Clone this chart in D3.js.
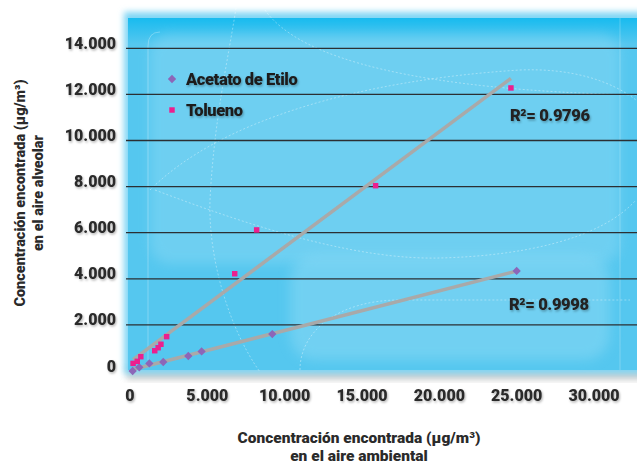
<!DOCTYPE html>
<html>
<head>
<meta charset="utf-8">
<script src="https://cdn.jsdelivr.net/npm/d3@7"></script>
<style>
  html, body { margin: 0; padding: 0; background: #fff; }
  svg { display: block; font-family: Roboto, "DejaVu Sans", sans-serif; }
</style>
</head>
<body>
<svg id="chart"></svg>
<script>
// values (µg/m3)
const seriesNames = ["Acetato de Etilo", "Tolueno"];
const seriesColors = ["#8c66b8", "#ec1f8e"];
const acetatoX = [170, 600, 1250, 2150, 3770, 4630, 9200, 25000];
const acetatoY = [0, 160, 330, 390, 650, 850, 1600, 4340];
const toluenoX = [200, 470, 700, 1600, 1820, 2000, 2370, 6770, 8190, 15880, 24630];
const toluenoY = [330, 420, 620, 880, 1010, 1160, 1490, 4220, 6120, 8040, 12280];
const r2Labels = ["R²= 0.9998", "R²= 0.9796"];
const xTicks = [0, 5000, 10000, 15000, 20000, 25000, 30000];
const yTicks = [0, 2000, 4000, 6000, 8000, 10000, 12000, 14000];
const xTitle = ["Concentración encontrada (µg/m³)", "en el aire ambiental"];
const yTitle = ["Concentración encontrada (µg/m³)", "en el aire alveolar"];

const config = {
    width: 637,
    height: 467,
    plotLeft: 130,
    plotRight: 594,
    plotTop: 48.3,
    plotBottom: 371,
};

const fmt = (v) => v === 0 ? "0" : d3.format(",")(v).replace(/,/g, ".");

const svg = d3.select("#chart")
    .attr("width", config.width)
    .attr("height", config.height);

const x = d3.scaleLinear().domain([0, 30000]).range([config.plotLeft, config.plotRight]);
const y = d3.scaleLinear().domain([0, 14000]).range([config.plotBottom, config.plotTop]);

const defs = svg.append("defs");
defs.append("filter").attr("id", "blur6").attr("x", "-20%").attr("y", "-20%").attr("width", "140%").attr("height", "140%")
    .append("feGaussianBlur").attr("stdDeviation", 6);
defs.append("filter").attr("id", "blur3").attr("x", "-20%").attr("y", "-20%").attr("width", "140%").attr("height", "140%")
    .append("feGaussianBlur").attr("stdDeviation", 3);
const shadow = defs.append("filter").attr("id", "shadow").attr("x", "-10%").attr("y", "-30%").attr("width", "130%").attr("height", "170%");
shadow.append("feDropShadow").attr("dx", 1).attr("dy", 1.5).attr("stdDeviation", 1.2)
    .attr("flood-color", "#000").attr("flood-opacity", 0.3);

const topGrad = defs.append("linearGradient").attr("id", "topGrad").attr("x1", 0).attr("x2", 0).attr("y1", 0).attr("y2", 1);
topGrad.append("stop").attr("offset", "0%").attr("stop-color", "#18bbef");
topGrad.append("stop").attr("offset", "100%").attr("stop-color", "#18bbef").attr("stop-opacity", 0);

// background panel
const bg = svg.append("g");
bg.append("rect").attr("x", 127).attr("y", 366).attr("width", 520).attr("height", 14)
    .attr("fill", "#cfcfcf").attr("filter", "url(#blur3)");
bg.append("rect").attr("x", 124).attr("y", 12).attr("width", 530).attr("height", 362)
    .attr("fill", "#7fd5f4").attr("filter", "url(#blur3)");
bg.append("rect").attr("x", 128).attr("y", 18).attr("width", 520).attr("height", 352)
    .attr("fill", "#55c7ef");
bg.append("rect").attr("x", 128).attr("y", 18).attr("width", 520).attr("height", 26)
    .attr("fill", "url(#topGrad)");
bg.append("rect").attr("x", 150).attr("y", 34).attr("width", 470).attr("height", 230).attr("rx", 20)
    .attr("fill", "#8ddaf5").attr("opacity", 0.45).attr("filter", "url(#blur6)");
bg.append("rect").attr("x", 290).attr("y", 255).attr("width", 320).attr("height", 105).attr("rx", 25)
    .attr("fill", "#8ddaf5").attr("opacity", 0.5).attr("filter", "url(#blur6)");

const deco = bg.append("g").attr("fill", "none").attr("stroke", "#ffffff")
    .attr("stroke-opacity", 0.45).attr("stroke-width", 0.8).attr("stroke-dasharray", "2 2");
deco.append("path").attr("d", "M236,8 C228,60 214,120 210,200 C208,260 230,330 260,372");
deco.append("path").attr("d", "M150,190 C220,120 360,80 520,70 C570,68 610,80 636,100");
deco.append("path").attr("d", "M155,190 C260,230 360,260 440,258 C520,256 600,240 636,200");
deco.append("path").attr("d", "M300,370 C300,330 340,300 400,300 L630,300");
deco.append("path").attr("d", "M265,10 C300,60 420,90 636,95");
bg.append("path").attr("d", "M160,32 Q148,32 148,46 L148,360").attr("fill", "none")
    .attr("stroke", "#ffffff").attr("stroke-opacity", 0.35).attr("stroke-width", 0.8);
bg.append("path").attr("d", "M620,18 L620,370").attr("fill", "none")
    .attr("stroke", "#ffffff").attr("stroke-opacity", 0.3).attr("stroke-width", 0.8);

// gridlines
svg.append("g").selectAll("line")
    .data(yTicks.filter((d) => d > 0))
    .join("line")
    .attr("x1", 126).attr("x2", config.width)
    .attr("y1", (d) => y(d)).attr("y2", (d) => y(d))
    .attr("stroke", "#2b2f33").attr("stroke-width", 1.3);

// axis labels
const labels = svg.append("g").attr("fill", "#2a2a2a").attr("font-weight", 900).attr("filter", "url(#shadow)");
labels.selectAll(".ytick")
    .data(yTicks)
    .join("text")
    .attr("class", "ytick")
    .attr("x", 116).attr("y", (d) => y(d) + 0.5)
    .attr("text-anchor", "end").attr("font-size", 16)
    .text(fmt);
labels.selectAll(".xtick")
    .data(xTicks)
    .join("text")
    .attr("class", "xtick")
    .attr("x", (d) => x(d)).attr("y", 401)
    .attr("text-anchor", "middle").attr("font-size", 16)
    .text(fmt);

const titles = svg.append("g").attr("fill", "#2a2a2a").attr("font-weight", 900);
titles.selectAll(".xtitle")
    .data(xTitle)
    .join("text")
    .attr("class", "xtitle")
    .attr("x", 359).attr("y", (d, i) => 443 + i * 17.5)
    .attr("text-anchor", "middle").attr("font-size", 15.5)
    .text((d) => d);
titles.selectAll(".ytitle")
    .data(yTitle)
    .join("text")
    .attr("class", "ytitle")
    .attr("transform", (d, i) => `translate(${25 + i * 18},193) rotate(-90)`)
    .attr("text-anchor", "middle").attr("font-size", 14.5)
    .text((d) => d);

// series
const series = [
    { name: seriesNames[0], color: seriesColors[0], shape: d3.symbolDiamond2, size: 44, xs: acetatoX, ys: acetatoY, r2: r2Labels[0], labelAt: [509, 310] },
    { name: seriesNames[1], color: seriesColors[1], shape: d3.symbolSquare2, size: 38, xs: toluenoX, ys: toluenoY, r2: r2Labels[1], labelAt: [510, 121] },
];

series.forEach((s) => {
    s.points = s.xs.map((v, i) => [v, s.ys[i]]);
    const mx = d3.mean(s.xs), my = d3.mean(s.ys);
    const slope = d3.sum(s.points, (p) => (p[0] - mx) * (p[1] - my)) / d3.sum(s.xs, (v) => (v - mx) ** 2);
    const intercept = my - slope * mx;
    const [x0, x1] = d3.extent(s.xs);
    s.trend = [[x0, intercept + slope * x0], [x1, intercept + slope * x1]];
});

const line = d3.line().x((d) => x(d[0])).y((d) => y(d[1]));

svg.append("g").selectAll("path")
    .data(series)
    .join("path")
    .attr("d", (d) => line(d.trend))
    .attr("fill", "none")
    .attr("stroke", "#a9a9a9")
    .attr("stroke-width", 3.5);

series.forEach((s) => {
    const sym = d3.symbol().type(s.shape).size(s.size);
    svg.append("g").selectAll("path")
        .data(s.points)
        .join("path")
        .attr("transform", (d) => `translate(${x(d[0])},${y(d[1])})`)
        .attr("d", sym)
        .attr("fill", s.color);
});

// R² labels
svg.append("g").attr("fill", "#222").attr("font-weight", 900).attr("font-size", 16.5).attr("filter", "url(#shadow)")
    .selectAll("text")
    .data(series)
    .join("text")
    .attr("x", (d) => d.labelAt[0]).attr("y", (d) => d.labelAt[1])
    .attr("letter-spacing", -0.4)
    .text((d) => d.r2);

// legend
const legend = svg.append("g").attr("transform", "translate(172,79)");
const legendItem = legend.selectAll("g")
    .data(series)
    .join("g")
    .attr("transform", (d, i) => `translate(0,${i * 31})`);
legendItem.append("path")
    .attr("d", (d) => d3.symbol().type(d.shape).size(d.size)())
    .attr("fill", (d) => d.color);
legendItem.append("text")
    .attr("x", 14).attr("y", 5.5)
    .attr("fill", "#1e1e1e").attr("font-weight", 900).attr("font-size", 16.5)
    .attr("letter-spacing", -0.4)
    .attr("filter", "url(#shadow)")
    .text((d) => d.name);
</script>
</body>
</html>
